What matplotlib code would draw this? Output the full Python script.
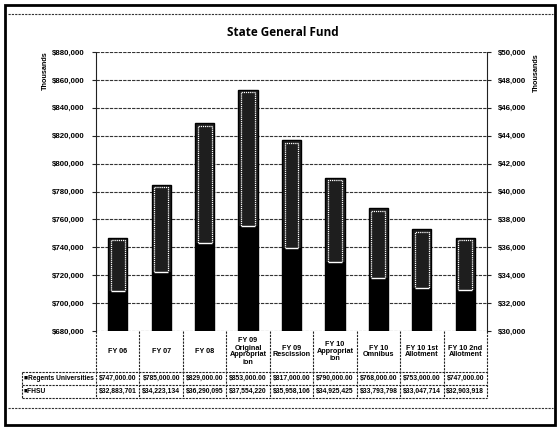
import matplotlib
matplotlib.use('Agg')
import matplotlib.pyplot as plt
from matplotlib.lines import Line2D
from matplotlib.patches import Rectangle
from matplotlib.transforms import ScaledTranslation
import numpy as np

categories = ['FY 06', 'FY 07', 'FY 08', 'FY 09\nOriginal\nAppropriat\nion', 'FY 09\nRescission',
              'FY 10\nAppropriat\nion', 'FY 10\nOmnibus', 'FY 10 1st\nAllotment', 'FY 10 2nd\nAllotment']
series_names = ['Regents Universities', 'FHSU']
regents = [747000, 785000, 829000, 853000, 817000, 790000, 768000, 753000, 747000]   # thousands
fhsu = [32883701, 34223134, 36290095, 37554220, 35958106, 34925425, 33793798, 33047714, 32903918]  # dollars
left_ticks = list(range(680000, 880001, 20000))
right_ticks = list(range(30000, 50001, 2000))

FONT = ['Liberation Sans', 'DejaVu Sans']
W, H = 560, 429
fig = plt.figure(figsize=(W / 100, H / 100), dpi=100)
fig.patch.set_facecolor('white')

ax = fig.add_axes([96 / W, 1 - 331 / H, 391 / W, 279 / H])
x = np.arange(len(categories))
ax.set_xlim(-0.5, len(categories) - 0.5)
ax.set_ylim(left_ticks[0], left_ticks[-1])
ax.set_yticks(left_ticks)
ax.set_yticklabels([f"${v:,}" for v in left_ticks], fontsize=5.7, fontweight='bold', family=FONT)
ax.set_xticks([])
ax.yaxis.grid(True, linestyle=(0, (3, 1)), color='#333333', linewidth=0.8)
ax.set_axisbelow(True)
for s in ['top', 'bottom', 'right']:
    ax.spines[s].set_visible(False)
ax.spines['left'].set_linestyle((0, (2, 1)))
ax.spines['left'].set_color('#222222')
ax.tick_params(axis='y', length=3, color='#222222', pad=5)

# Regents bars (primary axis)
ax.bar(x, regents, width=0.44, color='#1e1e1e', edgecolor='black', linewidth=1.0, zorder=2)
inner = ax.bar(x, regents, width=0.32, fill=False, edgecolor='white', linewidth=0.9,
               linestyle=(0, (1, 0.7)), zorder=3)
off = ScaledTranslation(0, -2 / 72, fig.dpi_scale_trans)
for p in inner.patches:
    p.set_transform(ax.transData + off)

# FHSU bars (secondary axis)
ax2 = ax.twinx()
ax2.set_ylim(right_ticks[0], right_ticks[-1])
fh_k = np.array(fhsu) / 1000.0
ax2.bar(x, fh_k, width=0.44, color='black', zorder=2)
ax2.hlines(fh_k, x - 0.16, x + 0.16, colors='white', linewidth=1.0, zorder=3)
ax2.set_yticks(right_ticks)
ax2.set_yticklabels([f"${v:,}" for v in right_ticks], fontsize=5.7, fontweight='bold', family=FONT)
for s in ['top', 'bottom', 'left']:
    ax2.spines[s].set_visible(False)
ax2.spines['right'].set_linestyle((0, (2, 1)))
ax2.spines['right'].set_color('#222222')
ax2.tick_params(axis='y', length=3, color='#222222', pad=5)

# Titles / axis labels
fig.text(283 / W, 1 - 32 / H, 'State General Fund', fontsize=8.5, fontweight='bold',
         family=['Open Sans', 'DejaVu Sans'], ha='center', va='center')
fig.text(45 / W, 1 - 71 / H, 'Thousands', rotation=90, fontsize=5.2, fontweight='bold',
         family=FONT, ha='center', va='center')
fig.text(536 / W, 1 - 73 / H, 'Thousands', rotation=90, fontsize=5.2, fontweight='bold',
         family=FONT, ha='center', va='center')

# Data table under the chart (axes coordinates)
def ay(py):
    return (331 - py) / 279.0

n = len(categories)
ls = (0, (2, 1))
lc = '#222222'
x_left = (22 - 96) / 391.0

def line(xs, ys):
    ax.add_artist(Line2D(xs, ys, transform=ax.transAxes, color=lc, lw=0.8, ls=ls, clip_on=False))

for i in range(n + 1):
    line([i / n, i / n], [ay(331), ay(398)])
for py in [372, 385, 398]:
    line([x_left, 1], [ay(py), ay(py)])
line([x_left, x_left], [ay(372), ay(398)])

for i, c in enumerate(categories):
    ax.text((i + 0.5) / n, ay(351.5), c, transform=ax.transAxes, ha='center', va='center',
            fontsize=5.2, fontweight='bold', family=FONT, linespacing=1.0, clip_on=False)

reg_labels = [f"${v:,.2f}" for v in regents]
fh_labels = [f"${v:,}" for v in fhsu]
for row_y, name, labels in [(ay(378.5), series_names[0], reg_labels), (ay(391.5), series_names[1], fh_labels)]:
    ax.text(x_left + 0.004, row_y, '\u25a0' + name, transform=ax.transAxes, ha='left', va='center',
            fontsize=4.8, fontweight='bold', family=FONT, clip_on=False)
    for i, t in enumerate(labels):
        ax.text((i + 0.5) / n, row_y, t, transform=ax.transAxes, ha='center', va='center',
                fontsize=4.9, fontweight='bold', family=FONT, clip_on=False)

# Outer frame and dashed borders
fig.add_artist(Rectangle((5 / W, 1 - 425 / H), 550 / W, 420 / H, transform=fig.transFigure,
                         fill=False, edgecolor='black', linewidth=2))
for py in [14, 408]:
    fig.add_artist(Line2D([8 / W, 553 / W], [1 - py / H] * 2, transform=fig.transFigure,
                          color='#333333', lw=0.8, ls=(0, (2, 1))))

fig.savefig('out.png', dpi=100)
